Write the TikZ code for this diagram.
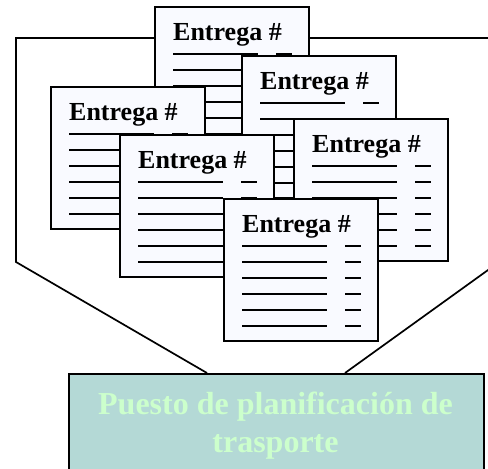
\documentclass[tikz,border=0pt]{standalone}
\usepackage{fontspec}
\setmainfont{Liberation Serif}
\usetikzlibrary{calc}
\definecolor{docfill}{HTML}{F9FAFF}
\definecolor{boxfill}{HTML}{B4D9D6}
\definecolor{boxtext}{HTML}{CCFFCC}
\tikzset{
  docbox/.style={draw=black, fill=docfill, line width=2pt, rectangle, minimum width=154pt, minimum height=142pt, inner sep=0pt, outer sep=0pt},
  doctext/.style={inner sep=0pt, font=\bfseries\fontsize{26}{30}\selectfont},
  docline/.style={line width=2pt, black},
  frameline/.style={line width=1.7pt, black},
  stationbox/.style={draw=black, fill=boxfill, line width=2pt, rectangle, inner sep=0pt},
  stationtext/.style={text=boxtext, align=center, font=\bfseries\fontsize{32}{38}\selectfont, inner sep=0pt}
}
\newcommand\docsheet[3]{%
  \node[docbox, anchor=north west] (#1) at (#2,#3) {};
  \node[doctext, anchor=base west] (#1t) at ($(#1.north west)+(18,-33)$) {Entrega \#};
  \foreach \i in {0,...,5} {
    \draw[docline] ($(#1.north west)+(18,-47-16*\i)$) -- ++(85,0);
    \draw[docline] ($(#1.north west)+(121,-47-16*\i)$) -- ++(16,0);
  }
}
\begin{document}
\begin{tikzpicture}[x=1pt,y=1pt]
\useasboundingbox (0,0) rectangle (488,-469);
\clip (0,0) rectangle (488,-469);
% bottom station box
\node[stationbox, anchor=north west, minimum width=415pt, minimum height=130pt] (station) at (68,-373) {};
\node[stationtext] (stationt) at (275.5,-426) {Puesto de planificación de\\trasporte};
% frame lines
\coordinate (tr) at (520,-38);
\coordinate (tl) at (16,-38);
\coordinate (bl) at (16,-262);
\coordinate (sl) at (207,-373);
\coordinate (sr) at (345,-373);
\coordinate (rr) at (520,-247);
\draw[frameline] (tr) -- (tl) -- (bl) -- (sl);
\draw[frameline] (sr) -- (rr);
% documents, back to front
\docsheet{docA}{155}{-7}
\docsheet{docB}{242}{-56}
\docsheet{docC}{51}{-87}
\docsheet{docE}{294}{-119}
\docsheet{docD}{120}{-135}
\docsheet{docF}{224}{-199}
\end{tikzpicture}
\end{document}
